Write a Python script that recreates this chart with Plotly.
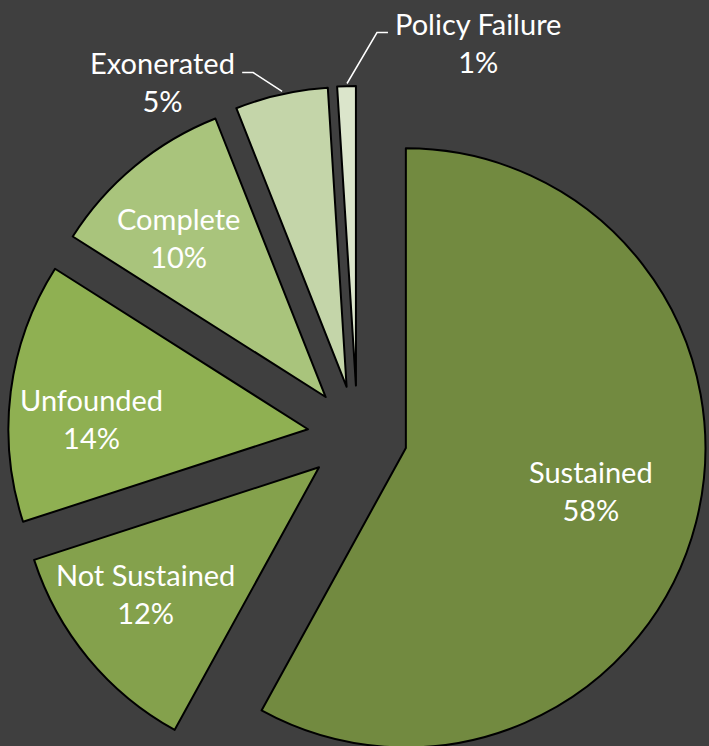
import plotly.graph_objects as go

labels = ["Sustained", "Not Sustained", "Unfounded", "Complete", "Exonerated", "Policy Failure"]
values = [58, 12, 14, 10, 5, 1]
colors = ["#728a40", "#84a14c", "#8fb052", "#a9c47c", "#c4d5a9", "#dbe5cb"]

# label anchor positions (pixels, layout only)
label_pos = [(591, 491), (145, 594), (91, 418), (178, 237), (162, 81), (478, 42)]
# leader lines for outside labels (pixels, layout only)
leaders = {
    4: [(242, 72), (253, 72), (282, 91)],
    5: [(388, 32), (377, 32), (347, 83)],
}

W, H = 709, 790
ML, MR, MT = 7.5, 1.5, 85.5
PW = W - ML - MR
PH = 700
MB = H - MT - PH
FONT = dict(color="white", size=29, family="Lato")

def to_paper(px, py):
    return (px - ML) / PW, 1 - (py - MT) / PH

fig = go.Figure(go.Pie(
    labels=labels,
    values=values,
    sort=False,
    direction="clockwise",
    rotation=0,
    pull=[1/6] * len(values),
    marker=dict(colors=colors, line=dict(color="#000000", width=2)),
    textinfo="none",
    hoverinfo="label+percent",
    showlegend=False,
))

total = sum(values)
annotations = []
for i, (lab, val) in enumerate(zip(labels, values)):
    xp, yp = to_paper(*label_pos[i])
    annotations.append(dict(
        x=xp, y=yp, xref="paper", yref="paper",
        xanchor="center", yanchor="middle",
        text=f"{lab}<br>{round(val / total * 100)}%",
        showarrow=False, font=FONT,
    ))

shapes = []
for idx, pts in leaders.items():
    path = ""
    for k, (px, py) in enumerate(pts):
        xp, yp = to_paper(px, py)
        path += ("M" if k == 0 else "L") + f"{xp},{yp} "
    shapes.append(dict(type="path", xref="paper", yref="paper", path=path.strip(),
                       line=dict(color="white", width=1.5)))

fig.update_layout(
    width=W, height=H,
    margin=dict(l=ML, r=MR, t=MT, b=MB, pad=0),
    paper_bgcolor="#3f3f3f",
    plot_bgcolor="#3f3f3f",
    annotations=annotations,
    shapes=shapes,
)

fig.write_html("out.html", post_script="document.body.style.overflow='hidden';document.documentElement.style.overflow='hidden';document.body.style.margin='0';")
